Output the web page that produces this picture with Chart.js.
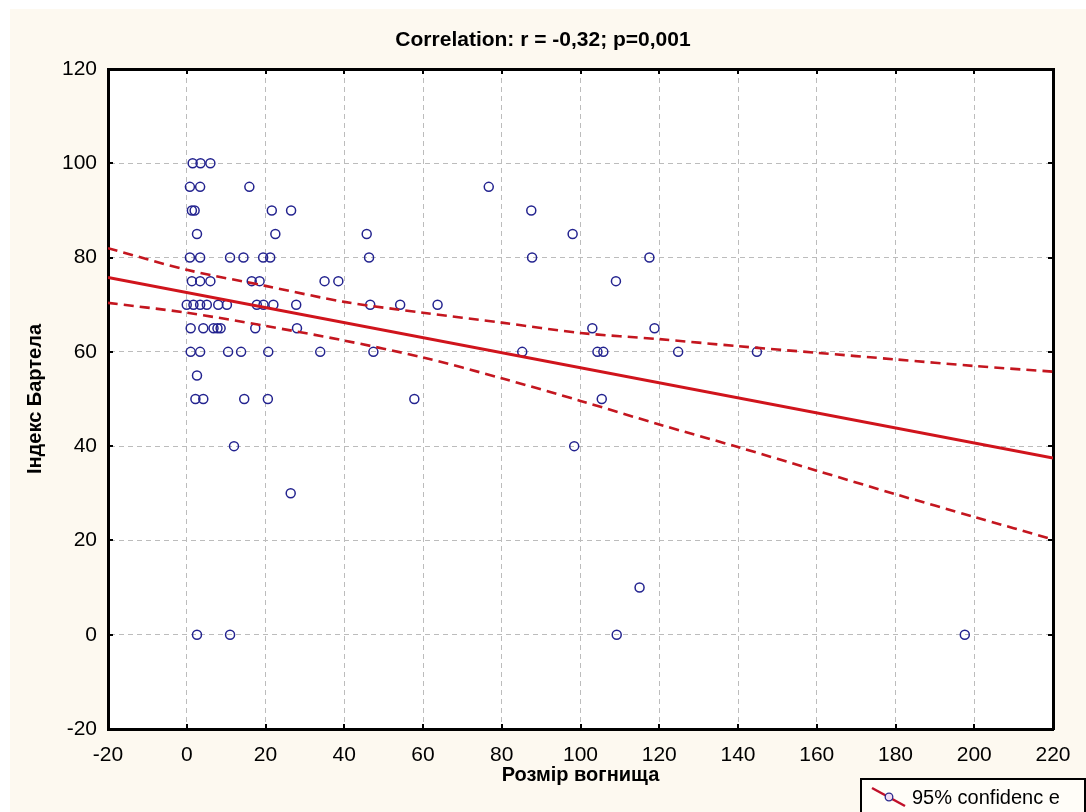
<!DOCTYPE html>
<html>
<head>
<meta charset="utf-8">
<script src="https://cdn.jsdelivr.net/npm/chart.js@4.4.1/dist/chart.umd.min.js"></script>
<style>
  html, body { margin: 0; padding: 0; background: #fff; }
  canvas { display: block; }
</style>
</head>
<body>
<canvas id="corrChart" width="1086" height="812"></canvas>
<script>
// lesion size (x) vs Barthel index (y)
const lesionSize = [
    1.5, 3.5, 6,
    0.8, 3.4, 15.9, 76.7,
    1.3, 2, 21.6, 26.5, 87.5,
    2.6, 22.5, 45.7, 98,
    0.8, 3.4, 11, 14.4, 19.4, 21.2, 46.3, 87.7, 117.5,
    1.3, 3.4, 6, 16.5, 18.5, 35, 38.5, 109,
    0, 1.7, 3.4, 5.1, 8, 10.2, 17.8, 19.5, 22, 27.8, 46.6, 54.2, 63.7,
    1, 4.2, 6.8, 7.8, 8.6, 17.4, 28, 103, 118.8,
    1, 3.4, 10.5, 13.8, 20.7, 33.9, 47.4, 85.2, 104.3, 105.8, 124.8, 144.8,
    2.6,
    2.2, 4.2, 14.6, 20.6, 57.8, 105.4,
    12, 98.4,
    26.4,
    115,
    2.6, 11, 109.2, 197.6
];
const barthelIndex = [
    100, 100, 100,
    95, 95, 95, 95,
    90, 90, 90, 90, 90,
    85, 85, 85, 85,
    80, 80, 80, 80, 80, 80, 80, 80, 80,
    75, 75, 75, 75, 75, 75, 75, 75,
    70, 70, 70, 70, 70, 70, 70, 70, 70, 70, 70, 70, 70,
    65, 65, 65, 65, 65, 65, 65, 65, 65,
    60, 60, 60, 60, 60, 60, 60, 60, 60, 60, 60, 60,
    55,
    50, 50, 50, 50, 50, 50,
    40, 40,
    30,
    10,
    0, 0, 0, 0
];

// regression line and 95% confidence band
const fitX = [-20, 220];
const fitY = [75.8, 37.5];
const bandX = [-20, 0, 20, 40, 60, 80, 100, 120, 140, 160, 180, 200, 220];
const bandUpper = [82, 77.4, 74, 70.6, 68.3, 66.2, 64, 62.7, 61.2, 59.8, 58.4, 57, 55.8];
const bandLower = [70.4, 68.3, 65.5, 62.4, 58.8, 54.4, 49.6, 44.6, 39.8, 34.8, 29.8, 25, 20.2];

const xTicks = [-20, 0, 20, 40, 60, 80, 100, 120, 140, 160, 180, 200, 220];
const yTicks = [-20, 0, 20, 40, 60, 80, 100, 120];

const FONT = "'Liberation Sans', Arial, sans-serif";
const toPoints = (xs, ys) => xs.map((x, i) => ({ x: x, y: ys[i] }));

const framePlugin = {
    id: 'frame',
    beforeDraw(chart) {
        const ctx = chart.ctx;
        const a = chart.chartArea;
        ctx.save();
        ctx.fillStyle = '#ffffff';
        ctx.fillRect(0, 0, chart.width, chart.height);
        ctx.fillStyle = '#fdf9f0';
        ctx.fillRect(10, 9, chart.width - 10, chart.height - 9);
        ctx.fillStyle = '#ffffff';
        ctx.fillRect(a.left, a.top, a.right - a.left, a.bottom - a.top);
        ctx.restore();
    },
    afterDraw(chart) {
        const ctx = chart.ctx;
        const a = chart.chartArea;
        const xs = chart.scales.x;
        const ys = chart.scales.y;
        ctx.save();
        // small inward tick marks on all four sides
        ctx.strokeStyle = '#000';
        ctx.lineWidth = 2;
        ctx.beginPath();
        xTicks.forEach(v => {
            const px = Math.round(xs.getPixelForValue(v));
            ctx.moveTo(px, a.bottom); ctx.lineTo(px, a.bottom - 5);
            ctx.moveTo(px, a.top); ctx.lineTo(px, a.top + 5);
        });
        yTicks.forEach(v => {
            const py = Math.round(ys.getPixelForValue(v));
            ctx.moveTo(a.left, py); ctx.lineTo(a.left + 5, py);
            ctx.moveTo(a.right, py); ctx.lineTo(a.right - 5, py);
        });
        ctx.stroke();

        // legend box
        ctx.fillStyle = '#fffdf8';
        ctx.fillRect(861, 779, 224, 40);
        ctx.strokeStyle = '#000';
        ctx.lineWidth = 2;
        ctx.strokeRect(861, 779, 224, 40);
        ctx.strokeStyle = '#c0102a';
        ctx.lineWidth = 2.5;
        ctx.beginPath();
        ctx.moveTo(872, 788);
        ctx.lineTo(905, 806);
        ctx.stroke();
        ctx.fillStyle = '#f3dcf3';
        ctx.strokeStyle = '#2a2a8c';
        ctx.lineWidth = 1.3;
        ctx.beginPath();
        ctx.arc(889, 797, 3.8, 0, Math.PI * 2);
        ctx.fill();
        ctx.stroke();
        ctx.fillStyle = '#000';
        ctx.font = '20px ' + FONT;
        ctx.textBaseline = 'middle';
        ctx.fillText('95% confidenc e', 912, 798);
        ctx.restore();
    }
};

new Chart(document.getElementById('corrChart'), {
    type: 'scatter',
    data: {
        datasets: [
            {
                label: 'fit',
                type: 'line',
                data: toPoints(fitX, fitY),
                borderColor: '#d0141c',
                borderWidth: 3,
                pointRadius: 0,
                fill: false
            },
            {
                label: 'upper',
                type: 'line',
                data: toPoints(bandX, bandUpper),
                borderColor: '#c4161f',
                borderWidth: 2.6,
                borderDash: [10, 6],
                pointRadius: 0,
                tension: 0.3,
                fill: false
            },
            {
                label: 'lower',
                type: 'line',
                data: toPoints(bandX, bandLower),
                borderColor: '#c4161f',
                borderWidth: 2.6,
                borderDash: [10, 6],
                pointRadius: 0,
                tension: 0.3,
                fill: false
            },
            {
                label: 'Barthel',
                data: toPoints(lesionSize, barthelIndex),
                pointStyle: 'circle',
                pointRadius: 4.5,
                pointBorderWidth: 1.5,
                borderColor: '#23238f',
                backgroundColor: 'rgba(0,0,0,0)'
            }
        ]
    },
    options: {
        responsive: false,
        devicePixelRatio: 1,
        animation: false,
        layout: { padding: 0 },
        plugins: {
            legend: { display: false },
            tooltip: { enabled: false },
            title: {
                display: true,
                text: 'Correlation: r = -0,32; p=0,001',
                color: '#000',
                font: { family: FONT, size: 21, weight: 'bold' },
                padding: { top: 28, bottom: 15.8 }
            }
        },
        scales: {
            x: {
                type: 'linear',
                position: 'bottom',
                min: -20,
                max: 220,
                afterBuildTicks: (scale) => { scale.ticks = xTicks.map(v => ({ value: v })); },
                afterFit: (scale) => { scale.height = 83; },
                ticks: {
                    color: '#000',
                    padding: 14,
                    font: { family: FONT, size: 21 }
                },
                grid: { color: '#bcbcbc', lineWidth: 1, drawTicks: false },
                border: { display: true, color: '#000', width: 3, dash: [5, 4] },
                title: {
                    display: true,
                    text: 'Розмір вогнища',
                    color: '#000',
                    font: { family: FONT, size: 20, weight: 'bold' },
                    padding: { top: 0, bottom: 25 }
                }
            },
            y: {
                type: 'linear',
                position: 'left',
                min: -20,
                max: 120,
                afterBuildTicks: (scale) => { scale.ticks = yTicks.map(v => ({ value: v })); },
                afterFit: (scale) => { scale.width = 108; },
                ticks: {
                    color: '#000',
                    padding: 11,
                    font: { family: FONT, size: 21 }
                },
                grid: { color: '#bcbcbc', lineWidth: 1, drawTicks: false },
                border: { display: true, color: '#000', width: 3, dash: [5, 4] },
                title: {
                    display: true,
                    text: 'Індекс Бартела',
                    color: '#000',
                    font: { family: FONT, size: 20, weight: 'bold' },
                    padding: { top: 23, bottom: 0 }
                }
            },
            xTop: {
                type: 'linear',
                position: 'top',
                min: 0,
                max: 1,
                afterFit: (scale) => { scale.height = 0; },
                ticks: { display: false },
                grid: { display: false, drawTicks: false },
                border: { display: true, color: '#000', width: 3 }
            },
            yRight: {
                type: 'linear',
                position: 'right',
                min: 0,
                max: 1,
                afterFit: (scale) => { scale.width = 33; },
                ticks: { display: false },
                grid: { display: false, drawTicks: false },
                border: { display: true, color: '#000', width: 3 }
            }
        }
    },
    plugins: [framePlugin]
});
</script>
</body>
</html>
